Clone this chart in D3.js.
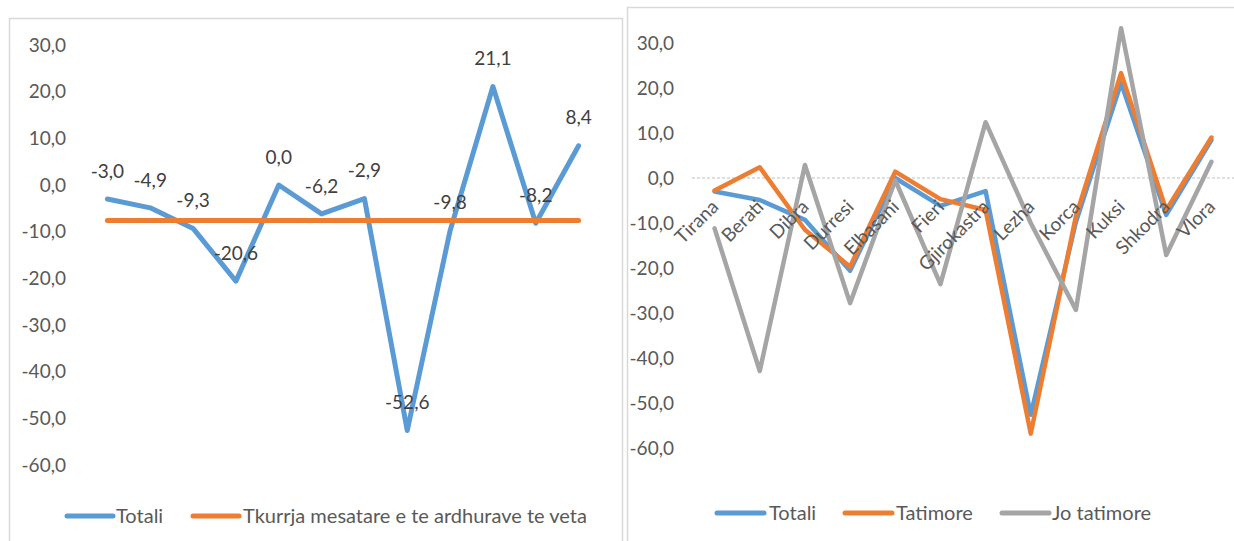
<!DOCTYPE html>
<html>
<head>
  <meta charset="UTF-8">
  <style>
    body { margin: 0; background-color: white; }
    svg { display: block; font-family: Lato, "Open Sans", sans-serif; }
  </style>
</head>
<body>
<svg></svg>
<script src="https://d3js.org/d3.v7.min.js"></script>
<script>

let width = 1234, height = 541;
let svg = d3.select("svg").attr("width", width).attr("height", height);

// data
const regions = ["Tirana", "Berati", "Dibra", "Durresi", "Elbasani", "Fieri", "Gjirokastra", "Lezha", "Korca", "Kuksi", "Shkodra", "Vlora"];
const totali = [-3.0, -4.9, -9.3, -20.6, 0.0, -6.2, -2.9, -52.6, -9.8, 21.1, -8.2, 8.4];
const tkurrja = [-7.6, -7.6, -7.6, -7.6, -7.6, -7.6, -7.6, -7.6, -7.6, -7.6, -7.6, -7.6];
const tatimore = [-2.8, 2.4, -11.5, -19.7, 1.4, -4.7, -7.1, -56.8, -8.5, 23.3, -7.1, 9.0];
const joTatimore = [-11.2, -42.9, 2.9, -27.8, -0.5, -23.6, 12.4, -10.0, -29.3, 33.3, -17.1, 3.6];
const yTicks = [-60, -50, -40, -30, -20, -10, 0, 10, 20, 30];

const leftLegend = ["Totali", "Tkurrja mesatare e te ardhurave te veta"];
const rightLegend = ["Totali", "Tatimore", "Jo tatimore"];

const blue = "#5b9bd5", orange = "#ed7d31", gray = "#a5a5a5";

const loc = d3.formatLocale({decimal: ",", thousands: ".", grouping: [3], currency: ["", ""], minus: "-"});
const fmt = loc.format(".1f");

// panel frames
svg.append("rect").attr("x", 9.5).attr("y", 18.5).attr("width", 613).attr("height", 600)
  .attr("fill", "white").attr("stroke", "#d9d9d9").attr("stroke-width", 1.5);
svg.append("rect").attr("x", 627.5).attr("y", 7.5).attr("width", 640).attr("height", 600)
  .attr("fill", "white").attr("stroke", "#d9d9d9").attr("stroke-width", 1.5);

// ---------- left chart ----------
let xL = d3.scalePoint().domain(regions).range([86, 600]).padding(0.5);
let yL = d3.scaleLinear().domain([-60, 30]).range([465, 45]);

let gL = svg.append("g");

gL.append("g").selectAll("text").data(yTicks).enter().append("text")
  .attr("x", 66).attr("y", d => yL(d)).attr("dy", "0.35em")
  .attr("text-anchor", "end").attr("fill", "#595959").style("font-size", "19px")
  .text(d => fmt(d));

let lineL = d3.line().x((d, i) => xL(regions[i])).y(d => yL(d));

gL.append("path").datum(totali).attr("d", lineL)
  .attr("fill", "none").attr("stroke", blue).attr("stroke-width", 5)
  .attr("stroke-linejoin", "round").attr("stroke-linecap", "round");

gL.append("path").datum(tkurrja).attr("d", lineL)
  .attr("fill", "none").attr("stroke", orange).attr("stroke-width", 5)
  .attr("stroke-linejoin", "round").attr("stroke-linecap", "round");

gL.append("g").selectAll("text").data(totali).enter().append("text")
  .attr("x", (d, i) => xL(regions[i])).attr("y", d => yL(d) - 28).attr("dy", "0.35em")
  .attr("text-anchor", "middle").attr("fill", "#404040").style("font-size", "19px")
  .text(d => fmt(d));

// legend left
let legL = gL.append("g");
[[67, 116, blue], [193, 243, orange]].forEach((p, i) => {
  legL.append("line").attr("x1", p[0]).attr("x2", p[0] + 46).attr("y1", 516).attr("y2", 516)
    .attr("stroke", p[2]).attr("stroke-width", 5).attr("stroke-linecap", "round");
  legL.append("text").attr("x", p[1]).attr("y", 516).attr("dy", "0.35em")
    .attr("fill", "#595959").style("font-size", "20px").text(leftLegend[i]);
});

// ---------- right chart ----------
let xR = d3.scalePoint().domain(regions).range([692, 1234]).padding(0.5);
let yR = d3.scaleLinear().domain([-60, 30]).range([448, 43]);

let gR = svg.append("g");

gR.append("g").selectAll("text").data(yTicks).enter().append("text")
  .attr("x", 674).attr("y", d => yR(d)).attr("dy", "0.35em")
  .attr("text-anchor", "end").attr("fill", "#595959").style("font-size", "19px")
  .text(d => fmt(d));

// axis line at zero
gR.append("line").attr("x1", 692).attr("x2", 1234).attr("y1", yR(0)).attr("y2", yR(0))
  .attr("stroke", "#bfbfbf").attr("stroke-width", 1).attr("stroke-dasharray", "3,2");

let lineR = d3.line().x((d, i) => xR(regions[i])).y(d => yR(d));

[[totali, blue], [tatimore, orange], [joTatimore, gray]].forEach(s => {
  gR.append("path").datum(s[0]).attr("d", lineR)
    .attr("fill", "none").attr("stroke", s[1]).attr("stroke-width", 4.5)
    .attr("stroke-linejoin", "round").attr("stroke-linecap", "round");
});

// category labels, rotated
gR.append("g").selectAll("text").data(regions).enter().append("text")
  .attr("transform", d => "translate(" + (xR(d) + 5) + "," + 208 + ") rotate(-45)")
  .attr("text-anchor", "end").attr("fill", "#595959").style("font-size", "19px")
  .text(d => d);

// legend right
let legR = gR.append("g");
[[717, 769, blue], [845, 896, orange], [1002, 1052, gray]].forEach((p, i) => {
  legR.append("line").attr("x1", p[0]).attr("x2", p[0] + 47).attr("y1", 513).attr("y2", 513)
    .attr("stroke", p[2]).attr("stroke-width", 5).attr("stroke-linecap", "round");
  legR.append("text").attr("x", p[1]).attr("y", 513).attr("dy", "0.35em")
    .attr("fill", "#595959").style("font-size", "20px").text(rightLegend[i]);
});

</script>
</body>
</html>
